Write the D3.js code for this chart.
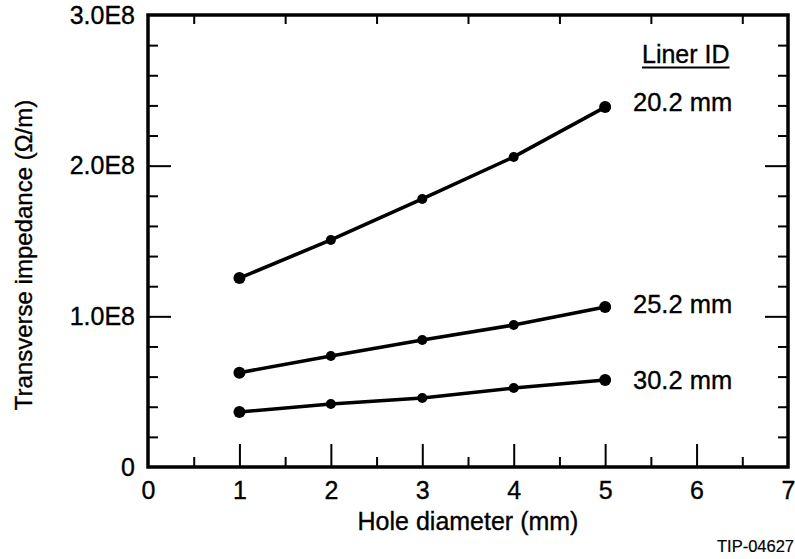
<!DOCTYPE html>
<html>
<head>
<meta charset="utf-8">
<script src="https://cdn.jsdelivr.net/npm/d3@7"></script>
<style>
  body { margin: 0; background: #fff; }
  svg { display: block; font-family: "Liberation Sans", Arial, Helvetica, sans-serif; }
  text { stroke: #000; stroke-width: 0.35px; }
</style>
</head>
<body>
<svg id="chart" width="795" height="559"></svg>
<script>
// hole diameter (mm)
const holeDiameter = [1, 2, 3, 4, 5];
// transverse impedance (Ohm/m) per liner ID
const liner202 = [1.254e8, 1.507e8, 1.779e8, 2.058e8, 2.389e8];
const liner252 = [0.626e8, 0.737e8, 0.843e8, 0.942e8, 1.062e8];
const liner302 = [0.365e8, 0.418e8, 0.458e8, 0.524e8, 0.577e8];
const seriesNames = ["20.2 mm", "25.2 mm", "30.2 mm"];
const yTickLabels = ["0", "1.0E8", "2.0E8", "3.0E8"];

const svg = d3.select("#chart");

const x = d3.scaleLinear().domain([0, 7]).range([148, 788]);
const y = d3.scaleLinear().domain([0, 3e8]).range([467, 15]);

const xMajor = d3.range(0, 8);
const xMinor = d3.range(0.5, 7, 1);
const yMajor = [0, 1e8, 2e8, 3e8];
const yMinor = d3.range(0, 3e8 + 1, 0.2e8).filter((v) => v % 1e8 !== 0);

const styleAxis = (g, w) => {
  g.select(".domain").remove();
  g.selectAll(".tick line").attr("stroke", "#000").attr("stroke-width", w);
};

// bottom axis
svg.append("g")
  .attr("transform", `translate(0,${y(0)})`)
  .call(d3.axisBottom(x).tickValues(xMajor).tickSizeInner(-23).tickSizeOuter(0).tickPadding(14).tickFormat((d) => d))
  .call((g) => styleAxis(g, 2))
  .call((g) => g.selectAll(".tick").filter((d) => d === 0 || d === 7).select("line").remove())
  .call((g) => g.selectAll("text").attr("font-size", 25).attr("fill", "#000").attr("font-family", null));
svg.append("g")
  .attr("transform", `translate(0,${y(0)})`)
  .call(d3.axisBottom(x).tickValues(xMinor).tickSize(-10).tickFormat(""))
  .call((g) => styleAxis(g, 2));

// top axis (half ticks only)
svg.append("g")
  .attr("transform", `translate(0,${y(3e8)})`)
  .call(d3.axisTop(x).tickValues(xMinor).tickSize(-9).tickFormat(""))
  .call((g) => styleAxis(g, 2));

// left axis
svg.append("g")
  .attr("transform", `translate(${x(0)},0)`)
  .call(d3.axisLeft(y).tickValues(yMajor).tickSizeInner(-23).tickSizeOuter(0).tickPadding(13)
    .tickFormat((d, i) => yTickLabels[i]))
  .call((g) => styleAxis(g, 2))
  .call((g) => g.selectAll(".tick").filter((d) => d === 0 || d === 3e8).select("line").remove())
  .call((g) => g.selectAll("text").attr("font-size", 25).attr("fill", "#000").attr("font-family", null));
svg.append("g")
  .attr("transform", `translate(${x(0)},0)`)
  .call(d3.axisLeft(y).tickValues(yMinor).tickSize(-10).tickFormat(""))
  .call((g) => styleAxis(g, 2));

// right axis
svg.append("g")
  .attr("transform", `translate(${x(7)},0)`)
  .call(d3.axisRight(y).tickValues(yMajor.filter((d) => d > 0 && d < 3e8)).tickSize(-23).tickFormat(""))
  .call((g) => styleAxis(g, 2));
svg.append("g")
  .attr("transform", `translate(${x(7)},0)`)
  .call(d3.axisRight(y).tickValues(yMinor).tickSize(-10).tickFormat(""))
  .call((g) => styleAxis(g, 2));

// frame
svg.append("rect")
  .attr("x", x(0)).attr("y", y(3e8))
  .attr("width", x(7) - x(0)).attr("height", y(0) - y(3e8))
  .attr("fill", "none").attr("stroke", "#000").attr("stroke-width", 3.5);

// series
const series = [liner202, liner252, liner302];
const line = d3.line().x((d, i) => x(holeDiameter[i])).y((d) => y(d));

series.forEach((vals, k) => {
  svg.append("path")
    .datum(vals)
    .attr("d", line)
    .attr("fill", "none")
    .attr("stroke", "#000")
    .attr("stroke-width", 3.6);
  svg.append("g")
    .selectAll("circle")
    .data(vals)
    .join("circle")
    .attr("cx", (d, i) => x(holeDiameter[i]))
    .attr("cy", (d) => y(d))
    .attr("r", (d, i) => (i === 0 || i === vals.length - 1 ? 6 : 5))
    .attr("fill", "#000");
});

// series labels
const labelX = 633;
const labelBase = [111, 313, 389];
seriesNames.forEach((name, k) => {
  svg.append("text")
    .attr("x", labelX).attr("y", labelBase[k])
    .attr("font-size", 25.5)
    .text(name);
});

// legend title
const lt = svg.append("text")
  .attr("x", 642).attr("y", 63)
  .attr("font-size", 25)
  .text("Liner ID");
const bb = lt.node().getBBox();
svg.append("line")
  .attr("x1", bb.x).attr("x2", bb.x + bb.width)
  .attr("y1", 67.5).attr("y2", 67.5)
  .attr("stroke", "#000").attr("stroke-width", 1.8);

// axis titles
svg.append("text")
  .attr("x", 468).attr("y", 530)
  .attr("text-anchor", "middle")
  .attr("font-size", 25)
  .text("Hole diameter (mm)");

svg.append("text")
  .attr("transform", "translate(32,255) rotate(-90)")
  .attr("text-anchor", "middle")
  .attr("font-size", 24)
  .text("Transverse impedance (Ω/m)");

// figure id
svg.append("text")
  .attr("x", 717).attr("y", 552)
  .attr("font-size", 16.5)
  .style("stroke-width", "0.2px")
  .text("TIP-04627");
</script>
</body>
</html>
